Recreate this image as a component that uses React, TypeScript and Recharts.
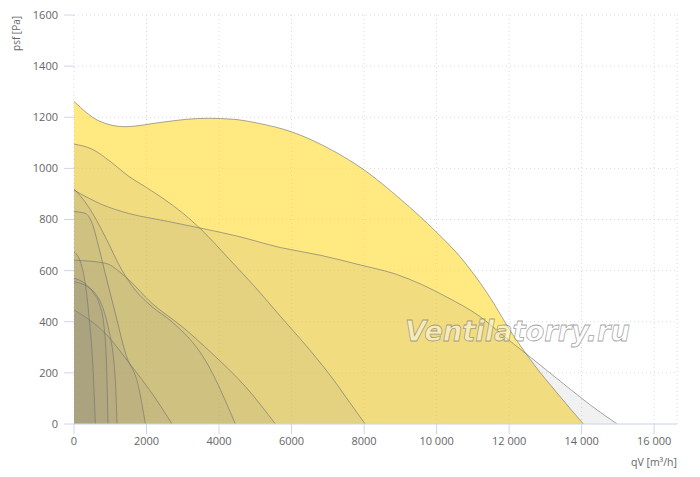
import React from 'react';
import { ComposedChart, Area, XAxis, YAxis, CartesianGrid } from 'recharts';

// Fan curves: flow qV [m³/h] and static pressure psf [Pa]
const flowA = [0, 700, 1400, 2400, 3100, 3700, 4400, 5100, 6000, 7000, 8000, 9000, 10000, 10650, 11400, 12100, 12700, 13300, 14050];
const presA = [1262, 1185, 1163, 1180, 1192, 1196, 1192, 1176, 1143, 1080, 994, 880, 750, 654, 511, 350, 230, 125, 0];

const flowC = [0, 800, 1500, 2500, 3500, 4500, 5700, 6800, 7900, 8900, 9600, 10300, 11200, 11800, 12600, 13600, 14300, 14980];
const presC = [915, 857, 824, 795, 766, 735, 690, 660, 622, 585, 545, 495, 420, 350, 260, 146, 68, 0];

const flowB = [0, 500, 1000, 1500, 2000, 2500, 3000, 3500, 4300, 5000, 5700, 6500, 7200, 7600, 8030];
const presB = [1095, 1075, 1027, 970, 925, 878, 825, 762, 642, 535, 420, 290, 165, 85, 0];

const flowD = [0, 860, 1420, 2150, 2980, 3800, 4730, 5555];
const presD = [641, 629, 576, 472, 381, 277, 146, 0];

const flowH = [0, 400, 860, 1320, 1690, 2150, 2700, 3620, 4450];
const presH = [920, 850, 733, 602, 524, 459, 400, 250, 0];

const flowG = [0, 310, 500, 680, 860, 1140, 1420, 1780, 1969];
const presG = [831, 824, 785, 694, 590, 433, 277, 146, 0];

const flowF = [0, 860, 1600, 2150, 2704];
const presF = [446, 355, 224, 120, 0];

const flowK = [0, 500, 960, 1140, 1186];
const presK = [557, 524, 368, 172, 0];

const flowJ = [0, 300, 550, 700, 830, 900, 938];
const presJ = [570, 550, 510, 470, 380, 220, 0];

const flowI = [0, 220, 405, 540, 588];
const presI = [674, 615, 433, 172, 0];

const xTicks = [0, 2000, 4000, 6000, 8000, 10000, 12000, 14000, 16000];
const yTicks = [0, 200, 400, 600, 800, 1000, 1200, 1400, 1600];

const toPoints = (q: number[], p: number[]) => q.map((v, i) => ({ q: v, p: p[i] }));

const mainCurve = toPoints(flowA, presA);
const otherCurves = [
  { id: 'C', data: toPoints(flowC, presC) },
  { id: 'B', data: toPoints(flowB, presB) },
  { id: 'D', data: toPoints(flowD, presD) },
  { id: 'H', data: toPoints(flowH, presH) },
  { id: 'G', data: toPoints(flowG, presG) },
  { id: 'F', data: toPoints(flowF, presF) },
  { id: 'K', data: toPoints(flowK, presK) },
  { id: 'J', data: toPoints(flowJ, presJ) },
  { id: 'I', data: toPoints(flowI, presI) },
];

const fmtX = (v: number) => (v >= 10000 ? `${Math.floor(v / 1000)} ${String(v % 1000).padStart(3, '0')}` : String(v));

const W = 692;
const H = 469;
const FONT = '"Open Sans", sans-serif';
const STROKE = 'rgba(110,110,110,0.6)';

export default function App() {
  return (
    <div style={{ position: 'relative', width: W, height: H }}>
      <ComposedChart width={W} height={H} margin={{ top: 7, right: 23, bottom: 23, left: 6 }}>
        <CartesianGrid stroke="#dadada" strokeDasharray="1 3" />
        <XAxis
          type="number"
          dataKey="q"
          domain={[0, 16630]}
          ticks={xTicks}
          tickFormatter={fmtX}
          allowDataOverflow
          height={30}
          tickSize={10}
          tickMargin={3}
          axisLine={{ stroke: '#ccd6eb' }}
          tickLine={{ stroke: '#ccd6eb' }}
          tick={{ fill: '#666', fontSize: 11, fontFamily: FONT }}
        />
        <YAxis
          type="number"
          dataKey="p"
          domain={[0, 1600]}
          ticks={yTicks}
          allowDataOverflow
          width={60}
          tickSize={10}
          tickMargin={6}
          axisLine={false}
          tickLine={{ stroke: '#ccd6eb' }}
          tick={{ fill: '#666', fontSize: 11, fontFamily: FONT }}
        />
        <Area
          data={mainCurve}
          dataKey="p"
          type="monotone"
          fill="rgb(255,218,43)"
          fillOpacity={0.6}
          stroke={STROKE}
          strokeWidth={1}
          dot={false}
          activeDot={false}
          isAnimationActive={false}
        />
        {otherCurves.map((c) => (
          <Area
            key={c.id}
            data={c.data}
            dataKey="p"
            type="monotone"
            fill="rgb(128,128,128)"
            fillOpacity={0.115}
            stroke={STROKE}
            strokeWidth={1}
            dot={false}
            activeDot={false}
            isAnimationActive={false}
          />
        ))}
      </ComposedChart>
      <svg width={W} height={H} style={{ position: 'absolute', left: 0, top: 0, pointerEvents: 'none' }}>
        <text
          x={397}
          y={333}
          fontFamily='"DejaVu Sans", sans-serif'
          fontStyle="italic"
          fontWeight="bold"
          fontSize={29}
          textLength={225}
          lengthAdjust="spacingAndGlyphs"
          fill="rgba(255,255,255,0.45)"
          stroke="rgba(120,120,120,0.7)"
          strokeWidth={0.8}
        >
          Ventilatorry.ru
        </text>
        <text x={669} y={458} textAnchor="end" fontFamily={FONT} fontSize={10.5} fill="#666">
          qV [m³/h]
        </text>
        <text transform="translate(12,25.5) rotate(-90)" textAnchor="middle" fontFamily={FONT} fontSize={10} fill="#666">
          psf [Pa]
        </text>
      </svg>
    </div>
  );
}
